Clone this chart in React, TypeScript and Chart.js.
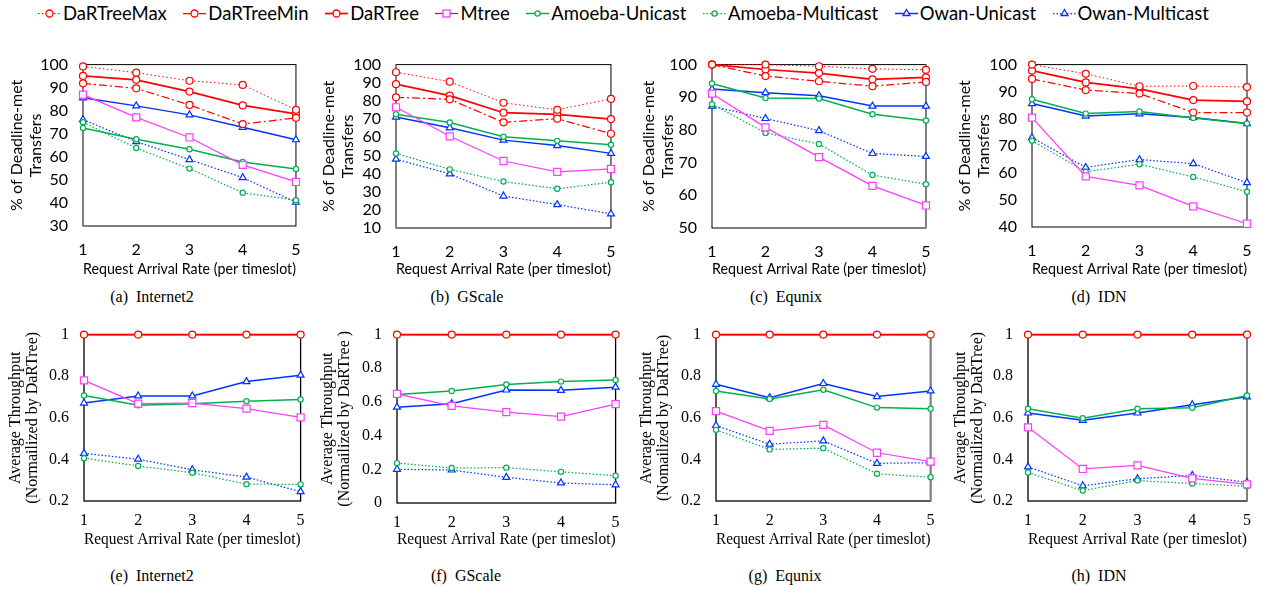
import React, { useEffect, useRef } from "react";
import { Chart, registerables } from "chart.js";

Chart.register(...registerables);

// ---------- data ----------
const rates = ["1", "2", "3", "4", "5"];
const seriesNames = [
  "DaRTreeMax",
  "DaRTreeMin",
  "DaRTree",
  "Mtree",
  "Amoeba-Unicast",
  "Amoeba-Multicast",
  "Owan-Unicast",
  "Owan-Multicast",
];
const pctTicksTitle = ["% of Deadline-met", "Transfers"];
const xAxisTitle = "Request Arrival Rate (per timeslot)";

// (a) Internet2 — % of deadline-met transfers
const internet2MaxPct = [99.2, 96.5, 93.0, 91.2, 80.4];
const internet2MinPct = [91.9, 89.7, 82.5, 74.2, 76.9];
const internet2DartPct = [95.1, 93.4, 88.3, 82.3, 78.6];
const internet2MtreePct = [87.0, 77.1, 68.4, 56.5, 49.1];
const internet2AmoebaUPct = [72.5, 67.6, 63.3, 57.8, 54.7];
const internet2AmoebaMPct = [75.0, 63.8, 54.9, 44.4, 41.2];
const internet2OwanUPct = [85.6, 82.1, 78.2, 72.8, 67.4];
const internet2OwanMPct = [76.1, 66.6, 58.8, 51.0, 40.3];

// (b) GScale
const gscaleMaxPct = [95.8, 90.6, 79.0, 75.1, 81.1];
const gscaleMinPct = [82.0, 80.9, 68.2, 70.2, 61.9];
const gscaleDartPct = [89.2, 82.9, 73.5, 72.6, 70.0];
const gscaleMtreePct = [76.5, 60.5, 46.9, 40.9, 42.5];
const gscaleAmoebaUPct = [72.6, 68.1, 60.3, 58.0, 55.9];
const gscaleAmoebaMPct = [51.1, 42.3, 35.6, 31.6, 35.2];
const gscaleOwanUPct = [71.1, 65.2, 58.4, 55.4, 51.1];
const gscaleOwanMPct = [47.9, 39.8, 27.6, 22.9, 17.8];

// (c) Equnix
const equnixMaxPct = [100, 100, 99.5, 98.7, 98.4];
const equnixMinPct = [100, 96.5, 94.9, 93.4, 94.7];
const equnixDartPct = [100, 98.5, 97.4, 95.5, 96.1];
const equnixMtreePct = [91.1, 80.8, 71.7, 62.9, 56.9];
const equnixAmoebaUPct = [94.2, 89.8, 89.6, 84.8, 82.9];
const equnixAmoebaMPct = [87.9, 79.1, 75.7, 66.2, 63.4];
const equnixOwanUPct = [92.5, 91.4, 90.5, 87.3, 87.3];
const equnixOwanMPct = [87.3, 83.5, 79.8, 72.8, 71.9];

// (d) IDN
const idnMaxPct = [100, 96.6, 92.0, 92.1, 91.7];
const idnMinPct = [94.7, 90.6, 89.3, 82.3, 82.3];
const idnDartPct = [97.8, 93.4, 91.0, 86.9, 86.4];
const idnMtreePct = [80.4, 58.7, 55.4, 47.6, 41.2];
const idnAmoebaUPct = [87.2, 81.9, 82.7, 80.3, 78.2];
const idnAmoebaMPct = [71.9, 60.4, 63.2, 58.5, 53.0];
const idnOwanUPct = [85.6, 81.0, 81.8, 80.5, 78.2];
const idnOwanMPct = [73.0, 62.0, 64.9, 63.4, 56.4];

// normalized throughput
const dartreeThr = [1, 1, 1, 1, 1];

// (e) Internet2
const internet2MtreeThr = [0.78, 0.668, 0.671, 0.644, 0.602];
const internet2AmoebaUThr = [0.707, 0.66, 0.668, 0.68, 0.688];
const internet2AmoebaMThr = [0.406, 0.368, 0.336, 0.281, 0.28];
const internet2OwanUThr = [0.671, 0.705, 0.705, 0.774, 0.805];
const internet2OwanMThr = [0.429, 0.401, 0.35, 0.315, 0.245];

// (f) GScale
const gscaleMtreeThr = [0.648, 0.577, 0.54, 0.513, 0.587];
const gscaleAmoebaUThr = [0.644, 0.665, 0.704, 0.721, 0.731];
const gscaleAmoebaMThr = [0.237, 0.208, 0.21, 0.185, 0.162];
const gscaleOwanUThr = [0.569, 0.59, 0.671, 0.669, 0.688];
const gscaleOwanMThr = [0.2, 0.196, 0.152, 0.119, 0.108];

// (g) Equnix
const equnixMtreeThr = [0.632, 0.537, 0.566, 0.432, 0.389];
const equnixAmoebaUThr = [0.729, 0.69, 0.735, 0.649, 0.644];
const equnixAmoebaMThr = [0.542, 0.448, 0.454, 0.331, 0.314];
const equnixOwanUThr = [0.761, 0.697, 0.765, 0.702, 0.729];
const equnixOwanMThr = [0.563, 0.473, 0.489, 0.381, 0.384];

// (h) IDN
const idnMtreeThr = [0.554, 0.354, 0.371, 0.309, 0.28];
const idnAmoebaUThr = [0.644, 0.598, 0.644, 0.648, 0.707];
const idnAmoebaMThr = [0.337, 0.25, 0.298, 0.284, 0.271];
const idnOwanUThr = [0.623, 0.588, 0.623, 0.663, 0.701];
const idnOwanMThr = [0.364, 0.273, 0.307, 0.323, 0.29];

// ---------- styles ----------
const RED = "#ff0000";
const PINK = "#ff3cff";
const GREEN = "#00b050";
const BLUE = "#0033ff";
const SANS = "Lato, 'Liberation Sans', sans-serif";
const SERIF = "'Liberation Serif', 'Times New Roman', serif";

type SeriesStyle = {
  color: string;
  dash: number[];
  width: number;
  point: string;
  radius: number;
  legendLine?: string;
};

const styles: Record<string, SeriesStyle> = {
  DaRTreeMax: { color: RED, dash: [1.5, 2.5], width: 1, point: "circle", radius: 3.5 },
  DaRTreeMin: { color: RED, dash: [8, 3, 2, 3], width: 1.25, point: "circle", radius: 3.5 },
  DaRTree: { color: RED, dash: [], width: 1.75, point: "circle", radius: 3.5 },
  Mtree: { color: PINK, dash: [], width: 1.25, point: "rect", radius: 5, legendLine: RED },
  "Amoeba-Unicast": { color: GREEN, dash: [], width: 1.5, point: "circle", radius: 2.6 },
  "Amoeba-Multicast": { color: GREEN, dash: [1.5, 2], width: 1.25, point: "circle", radius: 2.6 },
  "Owan-Unicast": { color: BLUE, dash: [], width: 1.5, point: "triangle", radius: 4 },
  "Owan-Multicast": { color: BLUE, dash: [1.5, 2], width: 1.25, point: "triangle", radius: 4 },
};

type Series = { name: string; data: number[] };
type PanelDef = {
  box: { x: number; y: number; w: number; h: number };
  plot: { l: number; t: number; r: number; b: number };
  yMin: number;
  yMax: number;
  yStep: number;
  yTitle: string[];
  yTitleCenter: number;
  serif: boolean;
  grayEdge: "left" | "right" | null;
  series: Series[];
  caption: string;
  captionX: number;
  captionY: number;
};

const boxPlugin = {
  id: "plotBox",
  beforeDatasetsDraw(chart: any, _args: any, opts: any) {
    const { ctx, chartArea } = chart;
    const { left, top, right, bottom } = chartArea;
    ctx.save();
    ctx.strokeStyle = "#000";
    ctx.lineWidth = opts.lineWidth || 1;
    ctx.strokeRect(left, top, right - left, bottom - top);
    if (opts.grayEdge) {
      const x = opts.grayEdge === "left" ? left : right;
      ctx.strokeStyle = "#808080";
      ctx.lineWidth = 2;
      ctx.beginPath();
      ctx.moveTo(x, top);
      ctx.lineTo(x, bottom);
      ctx.stroke();
    }
    ctx.restore();
  },
};

function Panel({ def }: { def: PanelDef }) {
  const ref = useRef<HTMLCanvasElement>(null);
  useEffect(() => {
    const canvas = ref.current!;
    const { box, plot } = def;
    const family = def.serif ? SERIF : SANS;
    const tickSize = 16;
    const tickLH = tickSize * 1.2;
    const tickCenterGap = def.serif ? 20 : 24;
    const yTitleSize = 16;
    const yTitleLH = def.serif ? 17 : 19;
    const xTitleSize = def.serif ? 17 : 16;
    const chart = new Chart(canvas, {
      type: "line",
      data: {
        labels: rates,
        datasets: def.series.map((s) => {
          const st = styles[s.name];
          return {
            label: s.name,
            data: s.data,
            borderColor: st.color,
            borderWidth: st.width,
            borderDash: st.dash,
            pointStyle: st.point as any,
            pointRadius: st.radius,
            pointBorderColor: st.color,
            pointBackgroundColor: "#ffffff",
            pointBorderWidth: 1.2,
            tension: 0,
            fill: false,
            clip: false as any,
          };
        }),
      },
      options: {
        responsive: false,
        animation: false,
        devicePixelRatio: 1,
        layout: {
          padding: {
            top: plot.t - box.y,
            right: box.x + box.w - plot.r,
            left: 0,
            bottom: 0,
          },
        },
        plugins: {
          legend: { display: false },
          tooltip: { enabled: false },
          plotBox: { grayEdge: def.grayEdge, lineWidth: def.serif ? 1.3 : 1 },
        } as any,
        scales: {
          x: {
            type: "category",
            offset: false,
            grid: { display: false, drawTicks: false },
            border: { display: false },
            ticks: {
              color: "#000",
              font: { family, size: tickSize },
              padding: tickCenterGap - tickLH / 2,
              maxRotation: 0,
              autoSkip: false,
            },
            title: {
              display: true,
              text: xAxisTitle,
              color: "#000",
              font: { family, size: xTitleSize, lineHeight: 1.2 },
              padding: { top: 0, bottom: 2 },
            },
            afterFit: (s: any) => {
              s.height = box.y + box.h - plot.b;
            },
          },
          y: {
            min: def.yMin,
            max: def.yMax,
            grid: { display: false, drawTicks: false },
            border: { display: false },
            ticks: {
              stepSize: def.yStep,
              autoSkip: false,
              color: "#000",
              font: { family, size: tickSize },
              padding: 15,
              callback: (v: any) => String(Math.round(Number(v) * 10) / 10),
            },
            title: {
              display: true,
              text: def.yTitle,
              color: "#000",
              font: { family, size: yTitleSize, lineHeight: yTitleLH / yTitleSize },
              padding: { top: def.yTitleCenter - box.x - yTitleLH / 2, bottom: 0 },
            },
            afterFit: (s: any) => {
              s.width = plot.l - box.x;
            },
          },
        },
      },
      plugins: [boxPlugin as any],
    });
    return () => chart.destroy();
  }, []);
  return (
    <>
      <canvas
        ref={ref}
        width={def.box.w}
        height={def.box.h}
        style={{
          position: "absolute",
          left: def.box.x,
          top: def.box.y,
          width: def.box.w,
          height: def.box.h,
        }}
      />
      <div
        style={{
          position: "absolute",
          left: def.captionX - 100,
          width: 200,
          top: def.captionY - 10,
          height: 20,
          lineHeight: "20px",
          textAlign: "center",
          fontFamily: SERIF,
          fontSize: 16,
          whiteSpace: "pre",
          color: "#000",
        }}
      >
        {def.caption}
      </div>
    </>
  );
}

function pctSeries(v: number[][]): Series[] {
  return seriesNames.map((name, i) => ({ name, data: v[i] }));
}
function thrSeries(v: number[][]): Series[] {
  const names = ["DaRTree", "Mtree", "Amoeba-Unicast", "Amoeba-Multicast", "Owan-Unicast", "Owan-Multicast"];
  return names.map((name, i) => ({ name, data: v[i] }));
}

const topBox = (x: number, w = 315) => ({ x, y: 40, w, h: 240 });
const botBox = (x: number, w = 315) => ({ x, y: 310, w, h: 242 });

const panels: PanelDef[] = [
  {
    box: topBox(0), plot: { l: 83, t: 59, r: 302, b: 226 },
    yMin: 30, yMax: 100, yStep: 10, yTitle: pctTicksTitle, yTitleCenter: 17, serif: false, grayEdge: "left",
    series: pctSeries([internet2MaxPct, internet2MinPct, internet2DartPct, internet2MtreePct, internet2AmoebaUPct, internet2AmoebaMPct, internet2OwanUPct, internet2OwanMPct]),
    caption: "(a)  Internet2", captionX: 152, captionY: 297,
  },
  {
    box: topBox(315), plot: { l: 396, t: 58, r: 617, b: 228 },
    yMin: 10, yMax: 100, yStep: 10, yTitle: pctTicksTitle, yTitleCenter: 329, serif: false, grayEdge: "left",
    series: pctSeries([gscaleMaxPct, gscaleMinPct, gscaleDartPct, gscaleMtreePct, gscaleAmoebaUPct, gscaleAmoebaMPct, gscaleOwanUPct, gscaleOwanMPct]),
    caption: "(b)  GScale", captionX: 467, captionY: 297,
  },
  {
    box: topBox(630), plot: { l: 712, t: 57, r: 934, b: 228 },
    yMin: 50, yMax: 100, yStep: 10, yTitle: pctTicksTitle, yTitleCenter: 649, serif: false, grayEdge: "right",
    series: pctSeries([equnixMaxPct, equnixMinPct, equnixDartPct, equnixMtreePct, equnixAmoebaUPct, equnixAmoebaMPct, equnixOwanUPct, equnixOwanMPct]),
    caption: "(c)  Equnix", captionX: 786, captionY: 297,
  },
  {
    box: topBox(945, 321), plot: { l: 1032, t: 57, r: 1247, b: 227 },
    yMin: 40, yMax: 100, yStep: 10, yTitle: pctTicksTitle, yTitleCenter: 965, serif: false, grayEdge: "right",
    series: pctSeries([idnMaxPct, idnMinPct, idnDartPct, idnMtreePct, idnAmoebaUPct, idnAmoebaMPct, idnOwanUPct, idnOwanMPct]),
    caption: "(d)  IDN", captionX: 1099, captionY: 297,
  },
  {
    box: botBox(0), plot: { l: 84, t: 330, r: 302, b: 501 },
    yMin: 0.2, yMax: 1, yStep: 0.2, yTitle: ["Average Throughput", "(Normailized by DaRTree)"], yTitleCenter: 16, serif: true, grayEdge: null,
    series: thrSeries([dartreeThr, internet2MtreeThr, internet2AmoebaUThr, internet2AmoebaMThr, internet2OwanUThr, internet2OwanMThr]),
    caption: "(e)  Internet2", captionX: 152, captionY: 576,
  },
  {
    box: botBox(315), plot: { l: 397, t: 329, r: 616, b: 503 },
    yMin: 0, yMax: 1, yStep: 0.2, yTitle: ["Average Throughput", "(Normailized by DaRTree )"], yTitleCenter: 328, serif: true, grayEdge: null,
    series: thrSeries([dartreeThr, gscaleMtreeThr, gscaleAmoebaUThr, gscaleAmoebaMThr, gscaleOwanUThr, gscaleOwanMThr]),
    caption: "(f)  GScale", captionX: 466, captionY: 576,
  },
  {
    box: botBox(630), plot: { l: 716, t: 330, r: 934, b: 501 },
    yMin: 0.2, yMax: 1, yStep: 0.2, yTitle: ["Average Throughput", "(Nomailized by DaRTree)"], yTitleCenter: 647, serif: true, grayEdge: "right",
    series: thrSeries([dartreeThr, equnixMtreeThr, equnixAmoebaUThr, equnixAmoebaMThr, equnixOwanUThr, equnixOwanMThr]),
    caption: "(g)  Equnix", captionX: 785, captionY: 576,
  },
  {
    box: botBox(945, 321), plot: { l: 1028, t: 330, r: 1247, b: 501 },
    yMin: 0.2, yMax: 1, yStep: 0.2, yTitle: ["Average Throughput", "(Normailized by DaRTree)"], yTitleCenter: 961, serif: true, grayEdge: "right",
    series: thrSeries([dartreeThr, idnMtreeThr, idnAmoebaUThr, idnAmoebaMThr, idnOwanUThr, idnOwanMThr]),
    caption: "(h)  IDN", captionX: 1099, captionY: 576,
  },
];

function LegendMarker({ st }: { st: SeriesStyle }) {
  const cx = 11.5;
  const cy = 6.5;
  let shape: React.ReactNode;
  if (st.point === "rect") {
    shape = <rect x={cx - 3.5} y={cy - 3.5} width={7} height={7} fill="#fff" stroke={st.color} strokeWidth={1.3} />;
  } else if (st.point === "triangle") {
    const r = 4;
    const pts = `${cx},${cy - r} ${cx + r * 0.866},${cy + r / 2} ${cx - r * 0.866},${cy + r / 2}`;
    shape = <polygon points={pts} fill="#fff" stroke={st.color} strokeWidth={1.3} />;
  } else {
    shape = <circle cx={cx} cy={cy} r={st.radius} fill="#fff" stroke={st.color} strokeWidth={1.3} />;
  }
  return (
    <svg width={23} height={13} style={{ display: "block" }}>
      <line
        x1={0}
        y1={cy}
        x2={23}
        y2={cy}
        stroke={st.legendLine || st.color}
        strokeWidth={Math.max(st.width, 1.2)}
        strokeDasharray={st.dash.length ? st.dash.join(" ") : undefined}
      />
      {shape}
    </svg>
  );
}

function Legend() {
  return (
    <div
      style={{
        position: "absolute",
        left: 38,
        top: 3,
        height: 20,
        display: "flex",
        alignItems: "center",
        fontFamily: SANS,
        fontSize: 18.5,
        color: "#000",
        whiteSpace: "nowrap",
      }}
    >
      {seriesNames.map((n) => (
        <div key={n} style={{ display: "flex", alignItems: "center", marginRight: 16.5 }}>
          <LegendMarker st={styles[n]} />
          <span style={{ marginLeft: 2 }}>{n}</span>
        </div>
      ))}
    </div>
  );
}

export default function App() {
  return (
    <div style={{ position: "absolute", left: 0, top: 0, width: 1266, height: 590, background: "#fff", overflow: "hidden" }}>
      <Legend />
      {panels.map((p, i) => (
        <Panel key={i} def={p} />
      ))}
    </div>
  );
}
